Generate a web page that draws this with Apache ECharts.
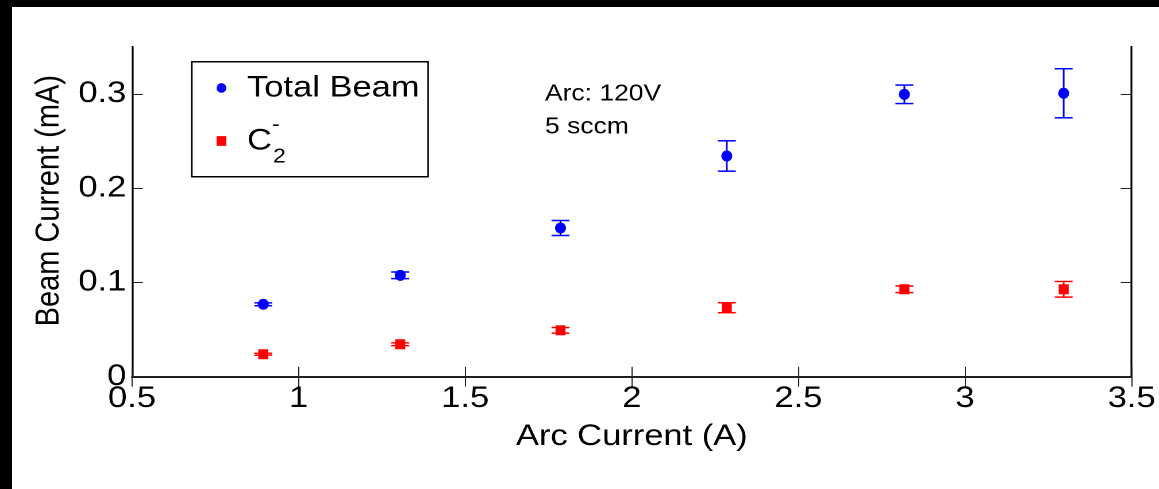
<!DOCTYPE html>
<html>
<head>
<meta charset="utf-8">
<script src="https://cdn.jsdelivr.net/npm/echarts@6/dist/echarts.min.js"></script>
<style>
  html, body { margin: 0; padding: 0; background: #000; overflow: hidden; }
  #frame { position: absolute; left: 12px; top: 7px; width: 1147px; height: 482px; background: #fff; overflow: hidden; }
  /* the figure is drawn narrower and stretched horizontally to fill the frame */
  #chart { width: 998px; height: 482px; transform-origin: 0 0; transform: scaleX(1.1493); }
</style>
</head>
<body>
<div id="frame"><div id="chart"></div></div>
<script>
// Arc current (A) for each measurement
const arcCurrent = [0.894, 1.305, 1.786, 2.285, 2.818, 3.296];
// Total beam current (mA) and its uncertainty
const totalBeam = [0.0768, 0.1075, 0.1577, 0.2341, 0.2995, 0.3006];
const totalBeamErr = [0.0015, 0.0035, 0.008, 0.0161, 0.0098, 0.026];
// C2- beam current (mA) and its uncertainty
const c2Beam = [0.0238, 0.0344, 0.0492, 0.0732, 0.0927, 0.0927];
const c2BeamErr = [0.001, 0.0015, 0.003, 0.0053, 0.0035, 0.0083];
// axis ticks
const xTickValues = [0.5, 1, 1.5, 2, 2.5, 3, 3.5];
const yTickValues = [0, 0.1, 0.2, 0.3];
const annotationLines = ['Arc: 120V', '5 sccm'];

const FONT = '"Liberation Sans", Arial, Helvetica, sans-serif';
const BLUE = '#0000ff';
const RED = '#ff0000';
// circle that stays round after the horizontal stretch
const DOT = 'path://M0,-1A1,1,0,1,1,0,1A1,1,0,1,1,0,-1Z';

const points = (ys) => arcCurrent.map((x, i) => [x, ys[i]]);
const bars = (ys, es) => arcCurrent.map((x, i) => [x, ys[i] - es[i], ys[i] + es[i]]);

function errorBars(color) {
  return function (params, api) {
    const x = api.value(0);
    const lo = api.coord([x, api.value(1)]);
    const hi = api.coord([x, api.value(2)]);
    const hw = 7.8;
    const style = { stroke: color, lineWidth: 1.5 };
    return {
      type: 'group',
      children: [
        { type: 'line', shape: { x1: hi[0], y1: hi[1], x2: lo[0], y2: lo[1] }, style },
        { type: 'line', shape: { x1: hi[0] - hw, y1: hi[1], x2: hi[0] + hw, y2: hi[1] }, style },
        { type: 'line', shape: { x1: lo[0] - hw, y1: lo[1], x2: lo[0] + hw, y2: lo[1] }, style }
      ]
    };
  };
}

const axisLineStyle = { show: true, lineStyle: { color: '#000', width: 1.6 } };

const xBase = {
  type: 'value', min: 0.5, max: 3.5, interval: 0.5,
  splitLine: { show: false },
  axisLine: axisLineStyle
};
const yBase = {
  type: 'value', min: 0, max: 0.35, interval: 0.1,
  splitLine: { show: false },
  axisLine: axisLineStyle
};

const chart = echarts.init(document.getElementById('chart'), null, { renderer: 'canvas', devicePixelRatio: 2 });

chart.setOption({
  animation: false,
  backgroundColor: '#fff',
  grid: { left: 104.4, right: 23.8, top: 39.7, bottom: 112.3, containLabel: false, outerBoundsMode: 'none' },
  xAxis: [
    Object.assign({}, xBase, {
      position: 'bottom',
      name: 'Arc Current (A)', nameLocation: 'middle', nameGap: 45,
      nameTextStyle: { fontFamily: FONT, fontSize: 30, color: '#000' },
      axisTick: { show: true, inside: true, length: 10, customValues: xTickValues, lineStyle: { color: '#222', width: 1 } },
      axisLabel: { show: true, customValues: xTickValues, margin: 7, fontFamily: FONT, fontSize: 30, color: '#000' }
    }),
    Object.assign({}, xBase, {
      position: 'top',
      axisTick: { show: true, inside: true, length: 10, customValues: xTickValues, lineStyle: { color: '#222', width: 1 } },
      axisLabel: { show: false }
    })
  ],
  yAxis: [
    Object.assign({}, yBase, {
      position: 'left',
      name: 'Beam Current (mA)', nameLocation: 'middle', nameGap: 49,
      nameTextStyle: { fontFamily: FONT, fontSize: 29, color: '#000', padding: [0, 0, 0, 22] },
      axisTick: { show: true, inside: true, length: 9.5, customValues: yTickValues, lineStyle: { color: '#222', width: 1 } },
      axisLabel: { show: true, customValues: yTickValues, margin: 5, fontFamily: FONT, fontSize: 30, color: '#000' }
    }),
    Object.assign({}, yBase, {
      position: 'right',
      axisTick: { show: true, inside: true, length: 9.5, customValues: yTickValues, lineStyle: { color: '#222', width: 1 } },
      axisLabel: { show: false }
    })
  ],
  legend: {
    orient: 'vertical',
    left: 178, top: 66,
    padding: 0,
    itemGap: 12,
    itemWidth: 8.5, itemHeight: 9.7,
    symbolKeepAspect: false,
    selectedMode: false,
    data: [
      { name: 'Total Beam', icon: DOT },
      { name: 'C2-', icon: 'rect' }
    ],
    formatter: (name) => name === 'Total Beam' ? '{t|Total Beam}' : '{c|C}{sup|-}{sub|2}',
    textStyle: {
      fontFamily: FONT, fontSize: 30, color: '#000',
      rich: {
        t: { fontFamily: FONT, fontSize: 30, lineHeight: 30, color: '#000', padding: [0, 0, 0, 13] },
        c: { fontFamily: FONT, fontSize: 30, lineHeight: 52, color: '#000', padding: [0, 0, 0, 13] },
        sup: { fontFamily: FONT, fontSize: 20, lineHeight: 20, color: '#000', verticalAlign: 'top', width: 1 },
        sub: { fontFamily: FONT, fontSize: 20, lineHeight: 20, color: '#000', verticalAlign: 'bottom' }
      }
    }
  },
  graphic: [
    {
      type: 'rect', z: 50,
      shape: { x: 156.4, y: 54.7, width: 205.6, height: 115 },
      style: { fill: 'none', stroke: '#000', lineWidth: 1.5 }
    },
    {
      type: 'text', z: 50, x: 463.8, y: 87.3,
      style: { text: annotationLines[0], font: '23px ' + FONT, fill: '#000', verticalAlign: 'middle' }
    },
    {
      type: 'text', z: 50, x: 463.8, y: 120.3,
      style: { text: annotationLines[1], font: '23px ' + FONT, fill: '#000', verticalAlign: 'middle' }
    }
  ],
  series: [
    {
      name: 'Total Beam error', type: 'custom', xAxisIndex: 0, yAxisIndex: 0,
      renderItem: errorBars(BLUE), data: bars(totalBeam, totalBeamErr), z: 3, silent: true
    },
    {
      name: 'C2- error', type: 'custom', xAxisIndex: 0, yAxisIndex: 0,
      renderItem: errorBars(RED), data: bars(c2Beam, c2BeamErr), z: 3, silent: true
    },
    {
      name: 'Total Beam', type: 'scatter', xAxisIndex: 0, yAxisIndex: 0,
      symbol: DOT, symbolSize: [9.6, 11], symbolKeepAspect: false,
      itemStyle: { color: BLUE, opacity: 1 }, data: points(totalBeam), z: 4
    },
    {
      name: 'C2-', type: 'scatter', xAxisIndex: 0, yAxisIndex: 0,
      symbol: 'rect', symbolSize: [8.7, 10],
      itemStyle: { color: RED, opacity: 1 }, data: points(c2Beam), z: 4
    }
  ]
});
</script>
</body>
</html>
